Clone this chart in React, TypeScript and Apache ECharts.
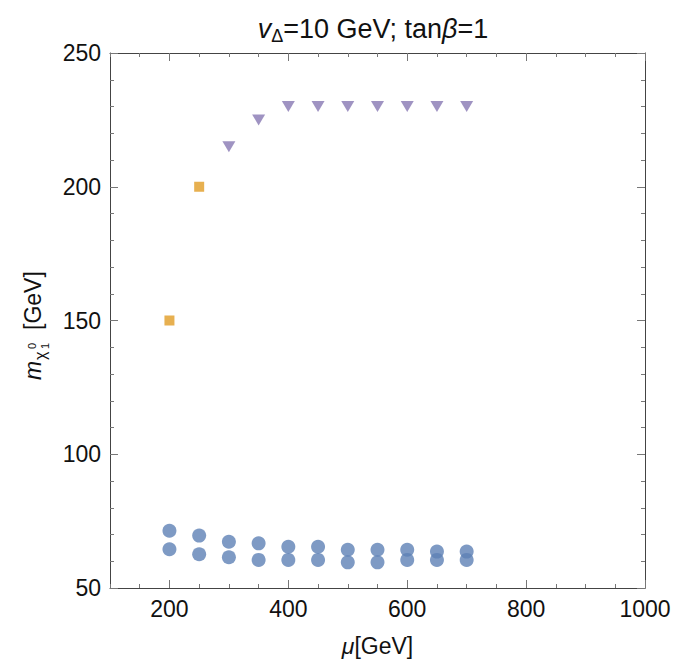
import { useEffect, useRef } from 'react';
import * as echarts from 'echarts';

// μ scan points (GeV)
const muScan = [200, 250, 300, 350, 400, 450, 500, 550, 600, 650, 700];
// two lightest-neutralino branches (GeV)
const massUpper = [71.4, 69.6, 67.3, 66.7, 65.4, 65.4, 64.3, 64.3, 64.3, 63.6, 63.6];
const massLower = [64.5, 62.6, 61.5, 60.5, 60.5, 60.5, 59.6, 59.6, 60.5, 60.5, 60.5];
// square markers
const squareMu = [200, 250];
const squareMass = [150, 200];
// triangle markers
const triangleMu = [300, 350, 400, 450, 500, 550, 600, 650, 700];
const triangleMass = [215, 225, 230, 230, 230, 230, 230, 230, 230];

const xMajorTicks = [200, 400, 600, 800, 1000];
const yTickLabels = [50, 100, 150, 200, 250];

const FONT = '"Liberation Sans", Arial, Helvetica, sans-serif';
const FRAME = '#444';
const TICK = '#777';
const LABEL_SIZE = 23;

const pairs = (xs: number[], ys: number[]) => xs.map((x, i) => [x, ys[i]]);

export default function App() {
  const ref = useRef<HTMLDivElement>(null);

  useEffect(() => {
    if (!ref.current) return;
    const chart = echarts.init(ref.current, null, { renderer: 'svg' });

    const xBase = {
      type: 'value' as const,
      min: 100,
      max: 1000,
      splitLine: { show: false },
    };

    chart.setOption({
      animation: false,
      backgroundColor: '#fff',
      grid: { left: 110, right: 31, top: 53, bottom: 74, containLabel: false },
      xAxis: [
        {
          ...xBase,
          position: 'bottom',
          axisLine: { show: true, onZero: false, lineStyle: { color: FRAME, width: 1 } },
          axisTick: { show: true, inside: true, length: 8, customValues: xMajorTicks, lineStyle: { color: TICK } },
          axisLabel: {
            show: true,
            customValues: xMajorTicks,
            fontSize: LABEL_SIZE,
            fontFamily: FONT,
            color: '#111',
            margin: 9,
            formatter: (v: number) => String(v),
          },
          name: '{i|μ}{n|[GeV]}',
          nameLocation: 'middle',
          nameGap: 46,
          nameTextStyle: {
            rich: {
              i: { fontSize: LABEL_SIZE, fontFamily: FONT, fontStyle: 'italic', color: '#111' },
              n: { fontSize: LABEL_SIZE, fontFamily: FONT, color: '#111' },
            },
          },
        },
        {
          ...xBase,
          position: 'bottom',
          interval: 50,
          axisLine: { show: false, onZero: false },
          axisTick: { show: true, inside: true, length: 4, lineStyle: { color: TICK } },
          axisLabel: { show: false },
        },
        {
          ...xBase,
          position: 'top',
          axisLine: { show: true, onZero: false, lineStyle: { color: FRAME, width: 1 } },
          axisTick: { show: true, inside: true, length: 8, customValues: xMajorTicks, lineStyle: { color: TICK } },
          axisLabel: { show: false },
        },
        {
          ...xBase,
          position: 'top',
          interval: 50,
          axisLine: { show: false, onZero: false },
          axisTick: { show: true, inside: true, length: 4, lineStyle: { color: TICK } },
          axisLabel: { show: false },
        },
      ],
      yAxis: [
        {
          type: 'value',
          position: 'left',
          min: 50,
          max: 250,
          interval: 50,
          splitLine: { show: false },
          axisLine: { show: true, onZero: false, lineStyle: { color: FRAME, width: 1 } },
          axisTick: { show: true, inside: true, length: 8, lineStyle: { color: TICK } },
          minorTick: { show: true, splitNumber: 5, length: 4, lineStyle: { color: TICK } },
          axisLabel: {
            fontSize: LABEL_SIZE,
            fontFamily: FONT,
            color: '#111',
            margin: 9,
            formatter: (v: number) => (yTickLabels.includes(v) ? String(v) : ''),
          },
        },
        {
          type: 'value',
          position: 'right',
          min: 50,
          max: 250,
          interval: 50,
          splitLine: { show: false },
          axisLine: { show: true, onZero: false, lineStyle: { color: FRAME, width: 1 } },
          axisTick: { show: true, inside: true, length: 8, lineStyle: { color: TICK } },
          minorTick: { show: true, splitNumber: 5, length: 4, lineStyle: { color: TICK } },
          axisLabel: { show: false },
        },
      ],
      graphic: [
        {
          type: 'text',
          x: 373,
          y: 29,
          style: {
            text: '{i|v}{s|Δ}{n|=10 GeV; tan}{i|β}{n|=1}',
            align: 'center',
            verticalAlign: 'middle',
            rich: {
              i: { fontSize: 27, fontFamily: FONT, fontStyle: 'italic', fill: '#111', lineHeight: 32 },
              n: { fontSize: 27, fontFamily: FONT, fill: '#111', lineHeight: 32 },
              s: { fontSize: 18, fontFamily: FONT, fill: '#111', lineHeight: 18, verticalAlign: 'bottom' },
            },
          },
        },
        {
          type: 'group',
          x: 33,
          y: 380,
          rotation: Math.PI / 2,
          children: [
            {
              type: 'text',
              x: 0,
              y: 0,
              style: { text: 'm', font: `italic 23px ${FONT}`, fill: '#111', align: 'left', verticalAlign: 'middle' },
            },
            {
              type: 'text',
              x: 20,
              y: 7,
              style: { text: 'χ', font: `16px ${FONT}`, fill: '#111', align: 'left', verticalAlign: 'middle' },
            },
            {
              type: 'text',
              x: 31,
              y: -1,
              style: { text: '0', font: `11px ${FONT}`, fill: '#111', align: 'left', verticalAlign: 'middle' },
            },
            {
              type: 'text',
              x: 31,
              y: 12,
              style: { text: '1', font: `11px ${FONT}`, fill: '#111', align: 'left', verticalAlign: 'middle' },
            },
            {
              type: 'text',
              x: 50,
              y: 0,
              style: { text: '[GeV]', font: `23px ${FONT}`, fill: '#111', align: 'left', verticalAlign: 'middle' },
            },
          ],
        },
      ],
      series: [
        {
          type: 'scatter',
          xAxisIndex: 0,
          yAxisIndex: 0,
          data: pairs(muScan, massUpper),
          symbol: 'circle',
          symbolSize: 14,
          itemStyle: { color: '#5E81B5' },
        },
        {
          type: 'scatter',
          xAxisIndex: 0,
          yAxisIndex: 0,
          data: pairs(muScan, massLower),
          symbol: 'circle',
          symbolSize: 14,
          itemStyle: { color: '#5E81B5' },
        },
        {
          type: 'scatter',
          xAxisIndex: 0,
          yAxisIndex: 0,
          data: pairs(squareMu, squareMass),
          symbol: 'rect',
          symbolSize: 10,
          itemStyle: { color: '#E19C24' },
        },
        {
          type: 'scatter',
          xAxisIndex: 0,
          yAxisIndex: 0,
          data: pairs(triangleMu, triangleMass),
          symbol: 'triangle',
          symbolRotate: 180,
          symbolSize: [13, 11],
          itemStyle: { color: '#8778B3' },
        },
      ],
    });

    return () => chart.dispose();
  }, []);

  return (
    <div
      ref={ref}
      style={{ position: 'fixed', left: 0, top: 0, width: 676, height: 662, background: '#fff' }}
    />
  );
}
